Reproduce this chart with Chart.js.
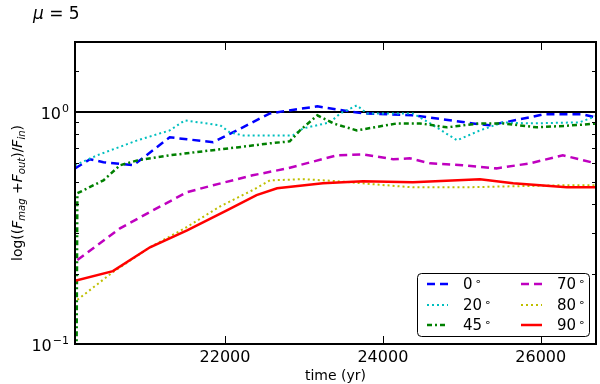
<!DOCTYPE html>
<html>
<head>
<meta charset="utf-8">
<script src="https://cdn.jsdelivr.net/npm/chart.js@4.4.0/dist/chart.umd.min.js"></script>
<style>
  html, body { margin: 0; padding: 0; background: #fff; }
</style>
</head>
<body>
<canvas id="grafico" width="600" height="384"></canvas>
<script>
// inclinações (legenda) e cores
const angulos = ['0', '20', '45', '70', '80', '90'];
const cores = ['#0000ff', '#00bfbf', '#008000', '#bf00bf', '#bfbf00', '#ff0000'];
const tracos = [[8, 5], [2, 3], [5, 3, 2, 3], [8, 5], [2, 3], []];

// tempo (anos) e valores de cada curva
const tempo_0 = [20100, 20290, 20460, 20840, 21300, 21520, 21850, 22150, 22570, 22730, 23170, 23420, 23750, 24380, 24760, 25140, 25350, 25860, 26030, 26530, 26700];
const valores_0 = [0.571, 0.625, 0.607, 0.589, 0.777, 0.762, 0.740, 0.832, 0.985, 1.005, 1.056, 1.025, 0.985, 0.966, 0.929, 0.892, 0.875, 0.947, 0.976, 0.976, 0.947];

const tempo_20 = [20100, 20380, 20890, 21300, 21490, 21940, 22060, 22230, 22860, 22990, 23330, 23460, 23670, 23800, 24380, 24600, 24940, 25230, 25520, 25860, 26490, 26700];
const valores_20 = [0.589, 0.650, 0.754, 0.832, 0.919, 0.875, 0.816, 0.792, 0.792, 0.849, 0.901, 0.985, 1.066, 0.985, 0.985, 0.892, 0.754, 0.832, 0.901, 0.892, 0.901, 0.960];

const tempo_45 = [20120, 20130, 20460, 20670, 20890, 21300, 21720, 22150, 22570, 22820, 22950, 23170, 23380, 23670, 24180, 24470, 24810, 25230, 25520, 25950, 26300, 26700];
const valores_45 = [0.095, 0.446, 0.507, 0.589, 0.618, 0.650, 0.676, 0.703, 0.732, 0.746, 0.832, 0.966, 0.890, 0.832, 0.892, 0.892, 0.858, 0.892, 0.892, 0.858, 0.870, 0.890];

const tempo_70 = [20130, 20670, 21090, 21520, 21850, 22350, 22790, 23420, 23750, 24130, 24340, 24600, 25010, 25440, 25860, 26280, 26700];
const valores_70 = [0.230, 0.315, 0.377, 0.451, 0.483, 0.533, 0.571, 0.650, 0.656, 0.625, 0.631, 0.600, 0.589, 0.571, 0.600, 0.650, 0.600];

const tempo_80 = [20130, 20580, 21050, 21490, 21940, 22350, 22570, 22990, 23420, 23870, 24380, 25010, 25650, 26280, 26700];
const valores_80 = [0.155, 0.204, 0.261, 0.315, 0.392, 0.460, 0.507, 0.513, 0.503, 0.488, 0.473, 0.473, 0.478, 0.483, 0.483];

const tempo_90 = [20100, 20580, 21050, 21520, 22030, 22400, 22660, 23240, 23750, 24380, 25230, 25650, 26330, 26700];
const valores_90 = [0.187, 0.206, 0.261, 0.309, 0.377, 0.438, 0.469, 0.493, 0.503, 0.498, 0.513, 0.493, 0.473, 0.473];

const tempos = [tempo_0, tempo_20, tempo_45, tempo_70, tempo_80, tempo_90];
const valores = [valores_0, valores_20, valores_45, valores_70, valores_80, valores_90];

// linha de referência e eixos
const nivel_ref = 1;
const tempo_min = 20100;
const tempo_max = 26700;
const y_min = 0.1;
const y_max = 2;
const marcasX = [22000, 24000, 26000];

const fonte = '"DejaVu Sans", sans-serif';

const datasets = angulos.map((a, i) => ({
  label: a,
  data: tempos[i].map((t, k) => ({ x: t, y: valores[i][k] })),
  borderColor: cores[i],
  borderDash: tracos[i],
  borderWidth: tracos[i].length === 2 && tracos[i][0] < 4 ? 2 : 2.5,
  pointRadius: 0,
  fill: false,
  tension: 0,
  order: 10 - i
}));

// linha horizontal em 1
datasets.push({
  label: 'ref',
  data: [{ x: tempo_min, y: nivel_ref }, { x: tempo_max, y: nivel_ref }],
  borderColor: '#000',
  borderWidth: 2,
  pointRadius: 0,
  order: 20
});

function ehDecada(v) {
  const l = Math.log10(v);
  return Math.abs(l - Math.round(l)) < 1e-9;
}

// moldura, marcas internas, textos e legenda
const extras = {
  id: 'extras',
  afterDraw(chart) {
    const ctx = chart.ctx;
    const a = chart.chartArea;
    const sx = chart.scales.x;
    const sy = chart.scales.y;
    ctx.save();
    ctx.strokeStyle = '#000';
    ctx.lineWidth = 1;

    // marcas do eixo y (dos dois lados) + rótulos 10^n
    sy.ticks.forEach(t => {
      const y = Math.round(sy.getPixelForValue(t.value)) + 0.5;
      const dec = ehDecada(t.value);
      const len = dec ? 8 : 4;
      ctx.beginPath();
      ctx.moveTo(a.left, y); ctx.lineTo(a.left + len, y);
      ctx.moveTo(a.right, y); ctx.lineTo(a.right - len, y);
      ctx.stroke();
      if (dec) {
        const e = String(Math.round(Math.log10(t.value))).replace('-', '−');
        ctx.fillStyle = '#000';
        ctx.textBaseline = 'alphabetic';
        ctx.textAlign = 'right';
        ctx.font = '11px ' + fonte;
        const we = ctx.measureText(e).width;
        ctx.fillText(e, a.left - 6, y - 1);
        ctx.font = '16px ' + fonte;
        ctx.fillText('10', a.left - 7 - we, y + 6);
      }
    });
    // marcas do eixo x
    marcasX.forEach(v => {
      const x = Math.round(sx.getPixelForValue(v)) + 0.5;
      ctx.beginPath();
      ctx.moveTo(x, a.bottom); ctx.lineTo(x, a.bottom - 8);
      ctx.moveTo(x, a.top); ctx.lineTo(x, a.top + 8);
      ctx.stroke();
    });

    // moldura
    ctx.lineWidth = 2;
    ctx.strokeRect(a.left, a.top, a.right - a.left, a.bottom - a.top);

    // título
    ctx.fillStyle = '#000';
    ctx.textBaseline = 'alphabetic';
    ctx.textAlign = 'left';
    ctx.font = 'italic 17px ' + fonte;
    ctx.fillText('μ', 33, 19);
    const wm = ctx.measureText('μ').width;
    ctx.font = '17px ' + fonte;
    ctx.fillText(' = 5', 33 + wm, 19);

    // rótulo x
    ctx.font = '14px ' + fonte;
    ctx.textAlign = 'center';
    ctx.fillText('time (yr)', (a.left + a.right) / 2, 380);

    // rótulo y com subscritos
    const partes = [
      { t: 'log((', f: '14px ', d: 0 },
      { t: 'F', f: 'italic 14px ', d: 0 },
      { t: 'mag', f: 'italic 10px ', d: 3 },
      { t: ' +', f: '14px ', d: 0 },
      { t: 'F', f: 'italic 14px ', d: 0 },
      { t: 'out', f: 'italic 10px ', d: 3 },
      { t: ')/', f: '14px ', d: 0 },
      { t: 'F', f: 'italic 14px ', d: 0 },
      { t: 'in', f: 'italic 10px ', d: 3 },
      { t: ')', f: '14px ', d: 0 }
    ];
    let total = 0;
    partes.forEach(p => { ctx.font = p.f + fonte; p.w = ctx.measureText(p.t).width; total += p.w; });
    ctx.translate(22, (a.top + a.bottom) / 2);
    ctx.rotate(-Math.PI / 2);
    ctx.textAlign = 'left';
    let px = -total / 2;
    partes.forEach(p => { ctx.font = p.f + fonte; ctx.fillText(p.t, px, p.d); px += p.w; });
    ctx.setTransform(1, 0, 0, 1, 0, 0);

    // legenda
    const caixa = { x: 417.5, y: 273.5, w: 172, h: 63 };
    ctx.beginPath();
    ctx.roundRect(caixa.x, caixa.y, caixa.w, caixa.h, 4);
    ctx.fillStyle = '#fff';
    ctx.fill();
    ctx.lineWidth = 1;
    ctx.strokeStyle = '#000';
    ctx.stroke();
    const linhasY = [284, 305, 325];
    const colLinha = [[427, 448], [521, 542]];
    const colTexto = [463, 557];
    angulos.forEach((ang, i) => {
      const c = Math.floor(i / 3), r = i % 3;
      const y = linhasY[r];
      ctx.beginPath();
      ctx.setLineDash(tracos[i]);
      ctx.strokeStyle = cores[i];
      ctx.lineWidth = datasets[i].borderWidth;
      ctx.moveTo(colLinha[c][0], y); ctx.lineTo(colLinha[c][1], y);
      ctx.stroke();
      ctx.setLineDash([]);
      ctx.fillStyle = '#000';
      ctx.textBaseline = 'middle';
      ctx.font = '15px ' + fonte;
      ctx.fillText(ang, colTexto[c], y + 1);
      const wa = ctx.measureText(ang).width;
      ctx.font = '11px ' + fonte;
      ctx.fillText('∘', colTexto[c] + wa + 2, y - 2);
    });
    ctx.restore();
  }
};

new Chart(document.getElementById('grafico'), {
  type: 'line',
  data: { datasets },
  options: {
    responsive: false,
    animation: false,
    layout: { padding: { left: 0, right: 4, top: 42, bottom: 0 } },
    plugins: { legend: { display: false }, tooltip: { enabled: false } },
    scales: {
      x: {
        type: 'linear',
        min: tempo_min,
        max: tempo_max,
        afterBuildTicks: s => { s.ticks = marcasX.map(v => ({ value: v })); },
        afterFit: s => { s.height = 40; },
        grid: { display: false, drawTicks: false },
        border: { display: false },
        ticks: { font: { family: fonte, size: 16 }, color: '#000', padding: 4, maxRotation: 0, callback: v => String(v) }
      },
      y: {
        type: 'logarithmic',
        min: y_min,
        max: y_max,
        afterFit: s => { s.width = 75; },
        grid: { display: false, drawTicks: false },
        border: { display: false },
        ticks: { display: false, autoSkip: false }
      }
    }
  },
  plugins: [extras]
});
</script>
</body>
</html>
